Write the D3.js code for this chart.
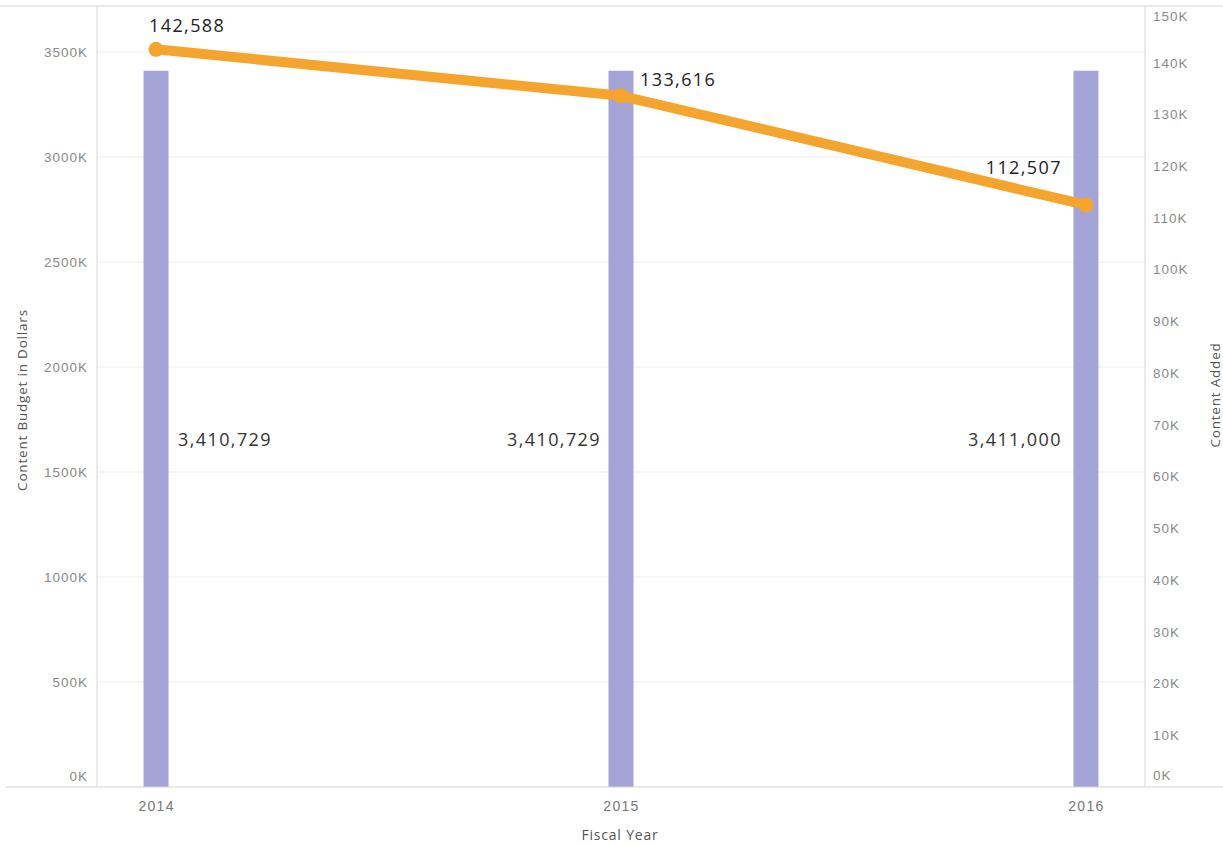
<!DOCTYPE html>
<html><head><meta charset="utf-8">
<script src="https://cdn.jsdelivr.net/npm/d3@7"></script>
<style>body{margin:0;background:#fff;}svg{display:block;font-family:"Open Sans","Noto Sans",sans-serif;}</style>
</head><body>
<svg id="c" width="1223" height="845"></svg>
<script>
const years = ["2014","2015","2016"];
const budget = [3410729, 3410729, 3411000];
const added = [142588, 133616, 112507];
const leftTicks = [0,500000,1000000,1500000,2000000,2500000,3000000,3500000];
const rightTicks = [0,10000,20000,30000,40000,50000,60000,70000,80000,90000,100000,110000,120000,130000,140000,150000];

const svg = d3.select("#c");
const L = 97, R = 1145, T = 6, B = 787;
const x = d3.scalePoint().domain(years).range([L, R]).padding(0.127);
const yL = d3.scaleLinear().domain([0, 3695238]).range([B, 11]);
const yR = d3.scaleLinear().domain([0, 150000]).range([B, 11]);
const fmt = d3.format(",");

// gridlines
svg.append("g").selectAll("line").data(leftTicks.slice(1)).join("line")
  .attr("x1", L).attr("x2", R).attr("y1", d=>yL(d)).attr("y2", d=>yL(d))
  .attr("stroke", "#ededed").attr("stroke-width", 1);

// frame
svg.append("line").attr("x1",0).attr("x2",1223).attr("y1",T).attr("y2",T).attr("stroke","#d4d4d4");
svg.append("line").attr("x1",L).attr("x2",L).attr("y1",T).attr("y2",B).attr("stroke","#d4d4d4");
svg.append("line").attr("x1",R).attr("x2",R).attr("y1",T).attr("y2",B).attr("stroke","#d4d4d4");

// bars
const bw = 25;
svg.append("g").selectAll("rect").data(years).join("rect")
  .attr("x", d=>x(d)-bw/2).attr("width", bw)
  .attr("y", (d,i)=>yL(budget[i])).attr("height", (d,i)=>B-yL(budget[i]))
  .attr("fill", "#a5a4d6");

// baseline
svg.append("line").attr("x1",5).attr("x2",1223).attr("y1",B).attr("y2",B).attr("stroke","#d4d4d4");

// left axis
const gl = svg.append("g").attr("transform",`translate(${L},0)`)
  .call(d3.axisLeft(yL).tickValues(leftTicks).tickSize(0).tickPadding(9).tickFormat(d=>(d/1000)+"K"));
gl.select(".domain").remove();
gl.selectAll("text").attr("fill","#8a8a8a").style("font-size","13.5px").style("letter-spacing","1px")
  .attr("dy", d=> d===0 ? "-0.45em" : "0.32em");

// right axis
const gr = svg.append("g").attr("transform",`translate(${R},0)`)
  .call(d3.axisRight(yR).tickValues(rightTicks).tickSize(0).tickPadding(8).tickFormat(d=>(d/1000)+"K"));
gr.select(".domain").remove();
gr.selectAll("text").attr("fill","#8a8a8a").style("font-size","13.5px").style("letter-spacing","1px")
  .attr("dy", d=> d===0 ? "-0.55em" : (d===150000 ? "0.7em" : "0.32em"));

// x axis
const gx = svg.append("g").attr("transform",`translate(0,${B})`)
  .call(d3.axisBottom(x).tickSize(0).tickPadding(14));
gx.select(".domain").remove();
gx.selectAll("text").attr("fill","#777").style("font-size","14px").style("letter-spacing","1.3px");

// axis titles
svg.append("text").attr("x",620).attr("y",840).attr("text-anchor","middle")
  .attr("fill","#555").style("font-size","14px").style("letter-spacing","0.8px").text("Fiscal Year");
svg.append("text").attr("transform","translate(27,400) rotate(-90)").attr("text-anchor","middle")
  .attr("fill","#555").style("font-size","13.5px").style("letter-spacing","0.8px").text("Content Budget in Dollars");
svg.append("text").attr("transform","translate(1220,395) rotate(-90)").attr("text-anchor","middle")
  .attr("fill","#555").style("font-size","13.5px").style("letter-spacing","0.8px").text("Content Added");

// bar labels
const barLab = [{dx:22, a:"start"},{dx:-20, a:"end"},{dx:-24, a:"end"}];
svg.append("g").selectAll("text").data(years).join("text")
  .attr("x",(d,i)=>x(d)+barLab[i].dx).attr("y",446)
  .attr("text-anchor",(d,i)=>barLab[i].a)
  .attr("fill","#333").style("font-size","18px").style("letter-spacing","1.4px")
  .text((d,i)=>fmt(budget[i]));

// line
const line = d3.line().x((d,i)=>x(years[i])).y(d=>yR(d));
svg.append("path").datum(added).attr("d", line)
  .attr("fill","none").attr("stroke","#f5a52e").attr("stroke-width",10)
  .attr("stroke-linejoin","round").attr("stroke-linecap","round");
svg.append("g").selectAll("circle").data(added).join("circle")
  .attr("cx",(d,i)=>x(years[i])).attr("cy",d=>yR(d)).attr("r",7.5)
  .attr("fill","#f5a52e");

// line labels
const lineLab = [{dx:-7, dy:-17, a:"start"},{dx:19, dy:-10, a:"start"},{dx:-24, dy:-31, a:"end"}];
svg.append("g").selectAll("text").data(added).join("text")
  .attr("x",(d,i)=>x(years[i])+lineLab[i].dx).attr("y",(d,i)=>yR(d)+lineLab[i].dy)
  .attr("text-anchor",(d,i)=>lineLab[i].a)
  .attr("fill","#222").style("font-size","18px").style("letter-spacing","1.4px")
  .text(d=>fmt(d));
</script>
</body></html>
